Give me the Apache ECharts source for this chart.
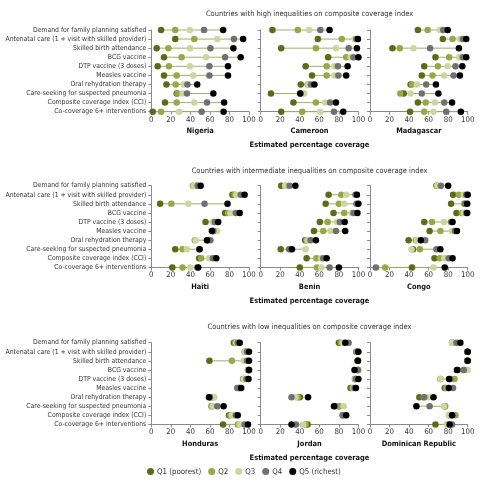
<!DOCTYPE html>
<html><head><meta charset="utf-8">
<script src="https://cdn.jsdelivr.net/npm/echarts@6/dist/echarts.min.js"></script>
<style>html,body{margin:0;padding:0;background:#fff}#c{width:499px;height:488px}</style>
</head><body><div id="c"></div>
<script>
const categories = [
  'Demand for family planning satisfied',
  'Antenatal care (1 + visit with skilled provider)',
  'Skilled birth attendance',
  'BCG vaccine',
  'DTP vaccine (3 doses)',
  'Measles vaccine',
  'Oral rehydration therapy',
  'Care-seeking for suspected pneumonia',
  'Composite coverage index (CCI)',
  'Co-coverage 6+ interventions'
];
const quintiles = ['Q1 (poorest)', 'Q2', 'Q3', 'Q4', 'Q5 (richest)'];
const groupTitles = [
  'Countries with high inequalities on composite coverage index',
  'Countries with intermediate inequalities on composite coverage index',
  'Countries with low inequalities on composite coverage index'
];
const xTicks = [0, 20, 40, 60, 80, 100];
const countryNames = ['Nigeria','Cameroon','Madagascar','Haiti','Benin','Congo','Honduras','Jordan','Dominican Republic'];
// rows: indicators; columns: Q1..Q5
const nigeria = [[10,24.5,39.5,54,73.5],[24.5,44,67.5,84.5,94],[5.5,17.5,39.5,60.5,84],[13,31,56,75.5,91.5],[6.5,18,39.5,59.5,78.5],[13,26,43,59.5,78.5],[15.5,25,33,37,47],[26,27,32,36.5,63.5],[14,26,44,57,74.5],[1.5,10,28.5,51.5,74]];
const cameroon = [[12,38,49.5,61,70.5],[58.5,83,96,98,99.5],[21,56.5,77,90,98.5],[69,87.5,92,95,100],[46,67.5,75.5,79,89],[52.5,67.5,75.5,79.5,87.5],[41,48,49,51.5,55],[10.5,41,44.5,40.5,40.5],[33.5,56.5,66,71,77],[21,42.5,61,75,84.5]];
const madagascar = [[49,59,71.5,75,79.5],[74.5,84.5,92,95,98.5],[23,30.5,44.5,61.5,91],[67,81,91,95,98.5],[55.5,69.5,79.5,87.5,94.5],[53,64,76,85.5,92],[41.5,43,48,57.5,67.5],[34.5,31,41.5,53,70],[49,57,66.5,76,84],[41,55.5,65,78,93]];
const haiti = [[46.5,42.5,43.5,47.5,50.5],[83,85,87,91.5,95.5],[9,20.5,38,54.5,78],[75.5,78.5,81,86.5,90.5],[55.5,63.5,63,65,68.5],[63,64,67.5,63.5,62],[57.5,44.5,45.5,60.5,57],[24.5,32,36.5,49,49.5],[49,51,59,63,66.5],[21.5,32,40,47,48]];
const benin = [[21,25.5,25,29.5,35.5],[69.5,82.5,87.5,97,98.5],[66.5,80,85.5,98,100],[74.5,85.5,93,95,99],[60.5,68.5,78,81,86],[54.5,64,71.5,77,86.5],[45.5,47,48,51,56.5],[20.5,30,46,29,32],[47,57,62,64,67.5],[40,57.5,62,70.5,80]];
const congo = [[68,68.5,69,72.5,80],[85,91,96,98.5,100],[83,96.5,96.5,97,99.5],[88.5,94,96,98.5,99.5],[55.5,63.5,75.5,83,84.5],[61,72,84,87,89],[39.5,47,48,56.5,52],[44,51,42.5,68,72],[66,71.5,76,80.5,84.5],[43,15.5,65,6,76.5]];
const honduras = [[84.5,86,87,88.5,90.5],[96,95.5,96,98,100],[59.5,82.5,94.5,98,100],[99,99,99.5,100,100],[94,94.5,94.5,97.5,99.5],[90,90,89.5,88,92],[61,63,64.5,60,59],[62,61.5,63,67.5,74],[79.5,81,82.5,86.5,88.5],[73.5,88.5,90.5,95.5,99]];
const jordan = [[80,82,84,90,86.5],[98,98,99,99,100],[99,99.5,99.5,99.5,99.5],[99.5,99.5,100,99.5,96],[96.5,96.5,97,97.5,100],[92,94,95,96,97.5],[40,38,35.5,31.5,48.5],[80,80.5,85,76,75],[84,84.5,85,84,87.5],[48,46,43.5,36,31.5]];
const dominicanRepublic = [[84,84.5,84,88.5,92.5],[99.5,99.5,100,100,100],[99.5,99.5,100,100,100],[90,96,100,96,89],[72,86.5,72,82,81],[76.5,78,80,85,80.5],[50.5,55,60,55.5,65],[76.5,77,75.5,61,47.5],[81,87.5,80.5,84,84],[67,79,78.5,84,81.5]];
const countryData = [nigeria, cameroon, madagascar, haiti, benin, congo, honduras, jordan, dominicanRepublic];

// ---- pick the narrowest available font and a size that fits the label column ----
const ctx = document.createElement('canvas').getContext('2d');
function widthOf(text, family, size, weight) { ctx.font = (weight || '') + ' ' + size + 'px ' + family; return ctx.measureText(text).width; }
function fontExists(f) {
  const s = 'abcdefghijklmnopqrstuvwxyz ABCDEFG (1+)';
  return widthOf(s, "'" + f + "',monospace", 20) !== widthOf(s, 'monospace', 20) ||
         widthOf(s, "'" + f + "',serif", 20) !== widthOf(s, 'serif', 20);
}
const condensed = ['Liberation Sans Narrow', 'DejaVu Sans Condensed', 'Roboto Condensed', 'Arial Narrow'];
const normal = ['Roboto', 'Liberation Sans', 'Lato', 'Inter', 'Noto Sans', 'Open Sans', 'DejaVu Sans'];
let fam = condensed.find(fontExists);
const longest = categories[1];
if (!fam) {
  let best = null, bw = 1e9;
  normal.filter(fontExists).forEach(f => { const w = widthOf(longest, "'" + f + "'", 10); if (w < bw) { bw = w; best = f; } });
  fam = best || 'sans-serif';
}
const FONT = "'" + fam + "',sans-serif";
const labelSize = Math.min(10, 10 * 141 / widthOf(longest, FONT, 10));
const titleSize = Math.min(9, 10 * 236 / widthOf(groupTitles[1], FONT, 10));
const boldSize = Math.min(9, 10 * 120 / widthOf('Estimated percentage coverage', FONT, 10, 'bold'));
const tickSize = Math.min(9, labelSize * 1.15);

const qColors = ['#5c6b16', '#98a845', '#cdd6a0', '#707070', '#000000'];
const lineColor = '#a4ad6c';
const axisColor = '#8a8a8a';
const textColor = '#333';

const colLeft = [151.3, 260.7, 370];
const colWidth = 97.7;
const rowTop = [30, 185.7, 342.7];
const rowHeight = 81.7;
const titleY = [15, 171.7, 328.3];

const grids = [], xAxes = [], yAxes = [], series = [], titles = [];
countryNames.forEach((name, i) => {
  const r = Math.floor(i / 3), c = i % 3;
  grids.push({left: colLeft[c], top: rowTop[r], width: colWidth, height: rowHeight, containLabel: false, outerBoundsMode: 'none'});
  xAxes.push({
    type: 'value', gridIndex: i, min: xTicks[0], max: xTicks[xTicks.length - 1], interval: xTicks[1] - xTicks[0],
    name: name, nameLocation: 'middle', nameGap: 16,
    nameTextStyle: {fontFamily: FONT, fontSize: boldSize, fontWeight: 'bold', color: '#111'},
    axisLine: {show: true, lineStyle: {color: axisColor, width: 1}},
    axisTick: {show: true, length: 3, lineStyle: {color: axisColor}},
    axisLabel: {fontFamily: FONT, fontSize: tickSize, color: textColor, margin: 4},
    splitLine: {show: false}
  });
  yAxes.push({
    type: 'category', gridIndex: i, data: categories, inverse: true, boundaryGap: false,
    axisLine: {show: true, lineStyle: {color: axisColor, width: 1}},
    axisTick: {show: true, length: 3, alignWithLabel: true, lineStyle: {color: axisColor}},
    axisLabel: {show: c === 0, fontFamily: FONT, fontSize: labelSize, color: textColor, margin: 5, interval: 0},
    splitLine: {show: false}
  });
  const rows = countryData[i];
  series.push({
    type: 'custom', xAxisIndex: i, yAxisIndex: i, silent: true, z: 1,
    data: rows.map((v, k) => [Math.min(...v), Math.max(...v), k]),
    renderItem: function (params, api) {
      const a = api.coord([api.value(0), api.value(2)]);
      const b = api.coord([api.value(1), api.value(2)]);
      return {type: 'line', shape: {x1: a[0], y1: a[1], x2: b[0], y2: b[1]}, style: {stroke: lineColor, lineWidth: 1}};
    },
    encode: {x: [0, 1], y: 2}
  });
  quintiles.forEach((q, j) => {
    series.push({
      type: 'scatter', name: q, xAxisIndex: i, yAxisIndex: i, z: 2 + j,
      symbol: 'circle', symbolSize: 6.5,
      itemStyle: {color: qColors[j], opacity: 1},
      data: rows.map((v, k) => [v[j], categories[k]])
    });
  });
});
groupTitles.forEach((t, r) => {
  titles.push({text: t, left: 309.5, top: titleY[r] - titleSize * 0.6, textAlign: 'center', padding: 0,
    textStyle: {fontFamily: FONT, fontSize: titleSize, fontWeight: 'normal', color: textColor}});
  titles.push({text: 'Estimated percentage coverage', left: 309.5, top: rowTop[r] + rowHeight + 34.5 - boldSize * 0.6, textAlign: 'center', padding: 0,
    textStyle: {fontFamily: FONT, fontSize: boldSize, fontWeight: 'bold', color: '#111'}});
});

const chart = echarts.init(document.getElementById('c'), null, {renderer: 'canvas'});
chart.setOption({
  animation: false,
  backgroundColor: '#fff',
  title: titles,
  grid: grids, xAxis: xAxes, yAxis: yAxes, series: series,
  legend: {
    data: quintiles, left: 147, top: 467.5, padding: 0, icon: 'circle', itemWidth: 7, itemHeight: 7, itemGap: 7,
    textStyle: {fontFamily: FONT, fontSize: tickSize, color: textColor, padding: [0, 0, 0, -2]}
  }
});
</script></body></html>
